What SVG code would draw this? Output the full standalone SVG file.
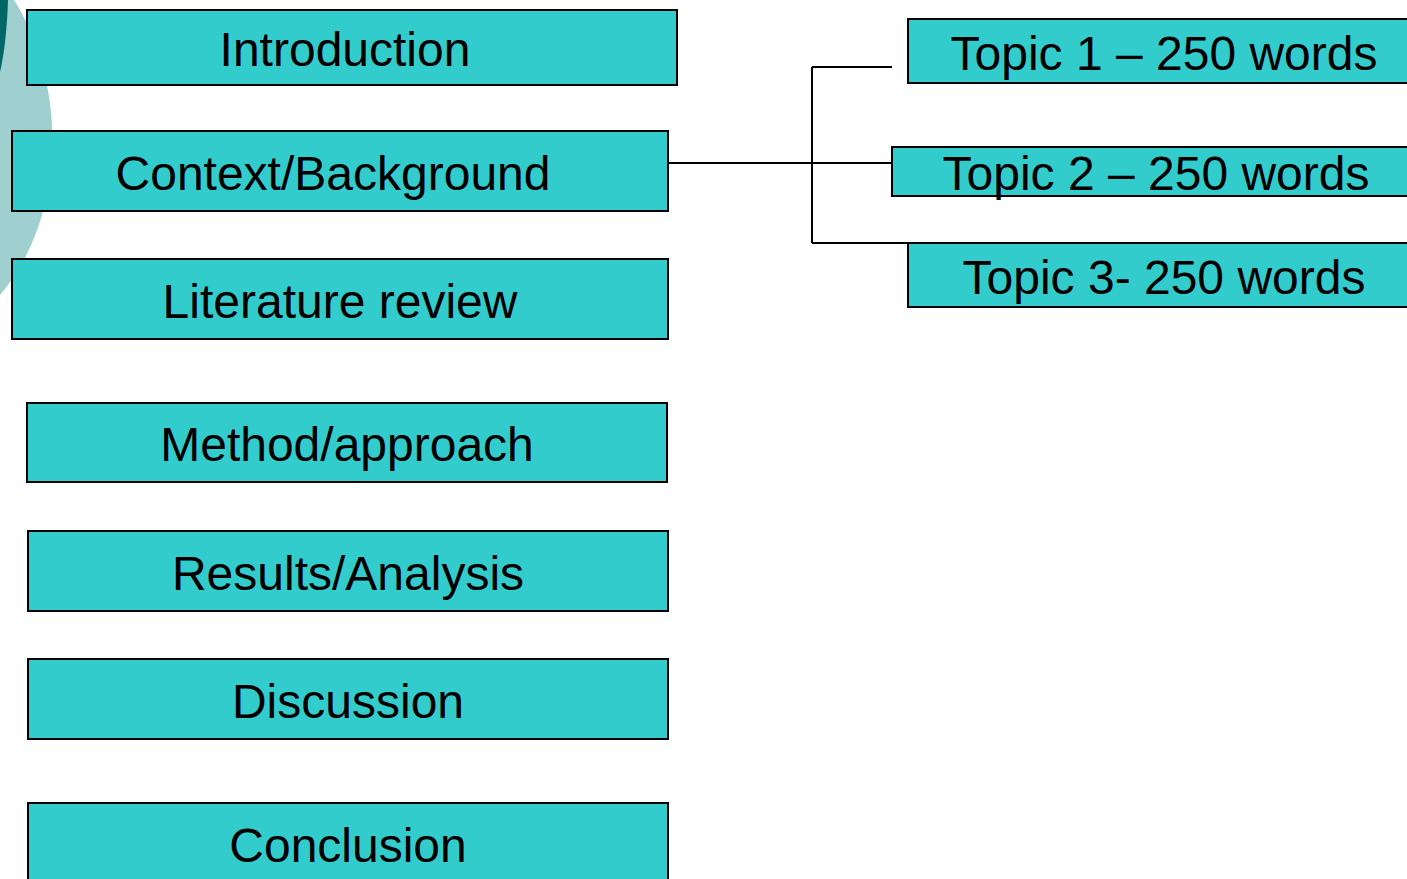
<svg xmlns="http://www.w3.org/2000/svg" width="1407" height="879" viewBox="0 0 1407 879">
  <style>
    .box { fill: #33CCCC; stroke: #000; stroke-width: 2; }
    .label { font-family: "Liberation Sans", Arial, sans-serif; font-size: 48px; fill: #000; text-anchor: middle; }
    .conn { fill: none; stroke: #000; stroke-width: 2; }
  </style>
  <rect width="1407" height="879" fill="#fff"/>
  <!-- decorative background circles -->
  <path d="M0,0 L14,0 C40,40 55,100 52,150 C50,210 30,260 0,295 Z" fill="#9FCFCF"/>
  <path d="M0,0 L8,0 C7,30 4,55 0,72 Z" fill="#006666"/>

  <g id="connectors">
    <path class="conn" d="M668,163 H892"/>
    <path class="conn" d="M812,67 V243"/>
    <path class="conn" d="M812,67 H892"/>
    <path class="conn" d="M812,243 H907"/>
  </g>

  <g id="introduction"><rect class="box" x="27" y="10" width="650" height="75"/><text class="label" x="345" y="66">Introduction</text></g>
  <g id="context"><rect class="box" x="12" y="131" width="656" height="80"/><text class="label" x="333" y="190">Context/Background</text></g>
  <g id="literature"><rect class="box" x="12" y="259" width="656" height="80"/><text class="label" x="340" y="318">Literature review</text></g>
  <g id="method"><rect class="box" x="27" y="403" width="640" height="79"/><text class="label" x="347" y="461">Method/approach</text></g>
  <g id="results"><rect class="box" x="28" y="531" width="640" height="80"/><text class="label" x="348" y="590">Results/Analysis</text></g>
  <g id="discussion"><rect class="box" x="28" y="659" width="640" height="80"/><text class="label" x="348" y="718">Discussion</text></g>
  <g id="conclusion"><rect class="box" x="28" y="803" width="640" height="100"/><text class="label" x="348" y="862">Conclusion</text></g>

  <g id="topic1"><rect class="box" x="908" y="19" width="520" height="64"/><text class="label" x="1164" y="70">Topic 1 – 250 words</text></g>
  <g id="topic2"><rect class="box" x="892" y="147" width="536" height="49"/><text class="label" x="1156" y="190">Topic 2 – 250 words</text></g>
  <g id="topic3"><rect class="box" x="908" y="243" width="520" height="64"/><text class="label" x="1164" y="294">Topic 3- 250 words</text></g>
</svg>
